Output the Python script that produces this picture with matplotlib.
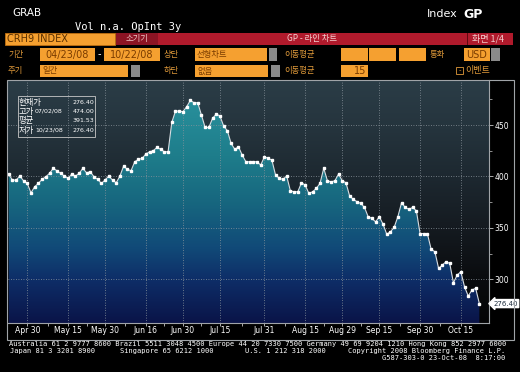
import numpy as np
import pandas as pd
import matplotlib
matplotlib.use("Agg")
import matplotlib.pyplot as plt
from matplotlib.colors import LinearSegmentedColormap
from matplotlib.patches import Rectangle

plt.rcParams['font.family'] = ['DejaVu Sans', 'Noto Sans CJK KR']
KR = ['Noto Sans CJK KR', 'DejaVu Sans']

# trading days shown on the chart (US holidays skipped)
holidays = ['2008-05-26', '2008-07-04', '2008-09-01']
dates = pd.bdate_range('2008-04-23', '2008-10-22')
dates = dates[~dates.isin(pd.to_datetime(holidays))]

prices = [
    402.0, 396.5, 396.5, 400.4, 395.8, 393.3, 384.1, 390.0, 393.3, 397.2,
    399.7, 403.0, 407.9, 405.6, 403.0, 400.4, 398.1, 402.3, 400.4, 403.0,
    407.9, 403.6, 404.6, 399.7, 397.2, 393.3, 396.5, 400.4, 396.5, 393.9,
    400.4, 410.1, 406.9, 405.6, 414.3, 416.6, 417.6, 421.8, 424.0, 425.0,
    428.3, 426.4, 424.0, 424.0, 452.6, 463.6, 463.6, 463.0, 467.8, 474.0,
    471.7, 471.7, 459.7, 447.7, 447.7, 456.5, 460.7, 458.8, 449.0, 444.5,
    432.2, 426.4, 428.9, 420.8, 414.3, 414.3, 414.3, 414.3, 411.1, 419.2,
    417.6, 416.0, 401.4, 398.2, 397.2, 400.4, 386.1, 385.1, 385.1, 393.9,
    391.6, 383.5, 385.1, 388.4, 393.3, 407.9, 395.8, 394.8, 395.8, 402.3,
    395.8, 393.9, 380.9, 377.7, 375.4, 373.8, 369.9, 360.8, 359.2, 355.9,
    360.8, 353.7, 343.9, 346.2, 350.5, 360.8, 374.4, 369.9, 368.0, 369.9,
    366.6, 344.5, 344.5, 343.9, 329.1, 326.8, 310.6, 313.8, 317.1, 315.5,
    296.6, 304.1, 307.3, 292.7, 283.7, 289.6, 291.2, 276.4,
]

tick_dates = ['2008-04-30', '2008-05-15', '2008-05-30', '2008-06-16',
              '2008-06-30', '2008-07-15', '2008-07-31', '2008-08-15',
              '2008-08-29', '2008-09-15', '2008-09-30', '2008-10-15']
tick_labels = ['Apr 30', 'May 15', 'May 30', 'Jun 16', 'Jun 30', 'Jul 15',
               'Jul 31', 'Aug 15', 'Aug 29', 'Sep 15', 'Sep 30', 'Oct 15']
y_ticks = [300, 350, 400, 450]

stat_names = ['현재가', '고가', '평균', '저가']
stat_dates = ['', '07/02/08', '', '10/23/08']
stat_values = ['276.40', '474.00', '391.53', '276.40']

footer_1 = ('Australia 61 2 9777 8600 Brazil 5511 3048 4500 Europe 44 20 '
            '7330 7500 Germany 49 69 9204 1210 Hong Kong 852 2977 6000')
footer_2 = ['Japan 81 3 3201 8900', 'Singapore 65 6212 1000',
            'U.S. 1 212 318 2000', 'Copyright 2008 Bloomberg Finance L.P.']
footer_3 = 'G587-303-0 23-Oct-08  8:17:00'

W, H = 520, 372
ORANGE = '#f5a030'
LABEL = '#e09a3a'
fig = plt.figure(figsize=(W / 100, H / 100), dpi=100, facecolor='black')


def rect(x, y, w, h, fc, ec='none', lw=0.6):
    fig.add_artist(Rectangle((x / W, 1 - (y + h) / H), w / W, h / H,
                             transform=fig.transFigure, fc=fc, ec=ec, lw=lw))


def txt(x, y, s, **kw):
    kw.setdefault('va', 'center')
    fig.text(x / W, 1 - y / H, s, **kw)


# ---- header
txt(12, 13, 'GRAB', color='white', fontsize=7.5)
txt(75, 27, 'Vol n.a. OpInt 3y', color='white', fontsize=7.5,
    family='DejaVu Sans Mono')
txt(427, 14, 'Index', color='white', fontsize=8)
txt(463, 14, 'GP', color='white', fontsize=9, weight='bold')

# row 1
rect(5, 33, 110, 12, ORANGE, ec='#c07010')
txt(7, 39, 'CRH9 INDEX', color='#5a3000', fontsize=7)
rect(116, 33, 42, 12, '#8c1424')
txt(137, 39, '소기기', color='#f0c8c8', fontsize=6, family=KR, ha='center')
rect(158, 33, 355, 12, '#b01a2c')
rect(467, 33, 1, 12, '#600810')
txt(312, 39, 'GP - 라인 차트', color='#f4d0d0', fontsize=6, family=KR, ha='center')
txt(472, 39, '화면 1/4', color='#f4d0d0', fontsize=6.5, family=KR)

# row 2
txt(8, 55, '기간', color=LABEL, fontsize=6, family=KR)
rect(40, 48, 55, 13, ORANGE)
txt(67, 55, '04/23/08', color='#7a3c00', fontsize=7, ha='center')
txt(99, 54, '-', color='white', fontsize=7, ha='center')
rect(104, 48, 56, 13, ORANGE)
txt(132, 55, '10/22/08', color='#7a3c00', fontsize=7, ha='center')
txt(164, 55, '상단', color=LABEL, fontsize=6, family=KR)
rect(195, 48, 72, 13, ORANGE)
rect(269, 48, 8, 13, '#8a8a8a')
txt(197, 55, '선형차트', color='#7a3c00', fontsize=6, family=KR)
txt(284, 55, '이동평균', color=LABEL, fontsize=6, family=KR)
for bx in (341, 369, 399):
    rect(bx, 48, 27, 13, ORANGE)
txt(430, 55, '통화', color=LABEL, fontsize=6, family=KR)
rect(464, 48, 26, 13, ORANGE)
rect(491, 48, 9, 13, '#8a8a8a')
txt(466, 55, 'USD', color='#7a3c00', fontsize=7)

# row 3
txt(8, 71, '주기', color=LABEL, fontsize=6, family=KR)
rect(40, 65, 88, 12, ORANGE)
rect(131, 65, 9, 12, '#8a8a8a')
txt(42, 71, '일간', color='#7a3c00', fontsize=6, family=KR)
txt(164, 71, '하단', color=LABEL, fontsize=6, family=KR)
rect(195, 65, 73, 12, ORANGE)
rect(271, 65, 9, 12, '#8a8a8a')
txt(197, 71, '없음', color='#7a3c00', fontsize=6, family=KR)
txt(284, 71, '이동평균', color=LABEL, fontsize=6, family=KR)
rect(341, 65, 27, 12, ORANGE)
txt(366, 71, '15', color='#7a3c00', fontsize=7, ha='right')
rect(456, 67, 7, 7, 'none', ec=LABEL, lw=0.6)
txt(459.5, 70.5, '-', color=LABEL, fontsize=5, ha='center')
txt(465, 71, '이벤트', color=LABEL, fontsize=6.5, family=KR)

# ---- chart
ax = fig.add_axes([8 / W, 1 - 323 / H, 481 / W, 243 / H])
x = np.arange(len(dates))
xlim = (-0.2, 129.6)
ylim = (257.5, 493.8)
ax.set_xlim(*xlim)
ax.set_ylim(*ylim)

bg = LinearSegmentedColormap.from_list(
    'bg', ['#040405', '#0b0d10', '#151b21', '#1d2830', '#25343d', '#2b3d47'])
fill = LinearSegmentedColormap.from_list(
    'fill', [(0.0, '#0a1448'), (0.18, '#0e2e68'), (0.31, '#114a78'),
             (0.5, '#17677f'), (0.69, '#1e7d8b'), (1.0, '#2c97a2')])
grad = np.linspace(0, 1, 256).reshape(-1, 1)
ax.imshow(grad, cmap=bg, origin='lower', extent=[*xlim, *ylim],
          aspect='auto', zorder=0)
poly = ax.fill_between(x, prices, ylim[0], color='none', lw=0)
im = ax.imshow(grad, cmap=fill, origin='lower', extent=[*xlim, *ylim],
               aspect='auto', zorder=1)
im.set_clip_path(poly.get_paths()[0], transform=ax.transData)

ax.plot(x, prices, color='#d8dde2', lw=0.8, zorder=3)
ax.plot(x, prices, ls='none', marker='s', ms=1.8, color='white', zorder=4)

tick_pos = [dates.get_loc(pd.Timestamp(d)) for d in tick_dates]
ax.set_xticks(tick_pos)
ax.set_xticklabels(tick_labels)
ax.set_xticks([(a + b) / 2 for a, b in zip(tick_pos[:-1], tick_pos[1:])],
              minor=True)
ax.yaxis.tick_right()
ax.set_yticks(y_ticks)
ax.set_yticks([275, 325, 375, 425, 475], minor=True)
ax.tick_params(axis='x', which='both', colors='#c8c8c8', labelcolor='white',
               labelsize=5.5, length=2, width=0.6, pad=0.5)
ax.tick_params(axis='y', which='major', colors='#c8c8c8', labelcolor='white',
               labelsize=5.5, length=3, width=0.6, pad=1)
ax.tick_params(axis='y', which='minor', colors='#c8c8c8', length=2, width=0.5)
ax.grid(True, which='major', color='#8a949c', lw=0.6, ls=(0, (1, 2)), zorder=2)
for side in ('left', 'top'):
    ax.spines[side].set_visible(False)
for side in ('right', 'bottom'):
    ax.spines[side].set_color('#a0a4a8')
    ax.spines[side].set_linewidth(0.8)

# last value tag
ax.annotate(stat_values[0], xy=(1.0, prices[-1]),
            xycoords=('axes fraction', 'data'), xytext=(3, 0),
            textcoords='offset points', ha='left', va='center', fontsize=5,
            color='#203040', annotation_clip=False,
            bbox=dict(boxstyle='larrow,pad=0.15', fc='white', ec='white'))

# outer frame
rect(7, 80, 507, 260, 'none', ec='#a0a4a8', lw=0.8)

# stats box
rect(18, 96, 77, 41, 'none', ec='#c8c8c8', lw=0.6)
for i, (n, d, v) in enumerate(zip(stat_names, stat_dates, stat_values)):
    yy = 102 + i * 9.4
    txt(19, yy, n, color='white', fontsize=6, family=KR)
    txt(35, yy, d, color='white', fontsize=4.5)
    txt(94, yy, v, color='white', fontsize=4.5, ha='right')

# footer
mono = dict(color='white', fontsize=5, family='DejaVu Sans Mono')
txt(9, 344, footer_1, **mono)
for fx, s in zip((10, 120, 245), footer_2[:3]):
    txt(fx, 351, s, **mono)
txt(505, 351, footer_2[3], ha='right', **mono)
txt(505, 358, footer_3, ha='right', **mono)

fig.savefig('out.png', dpi=100, facecolor='black')
